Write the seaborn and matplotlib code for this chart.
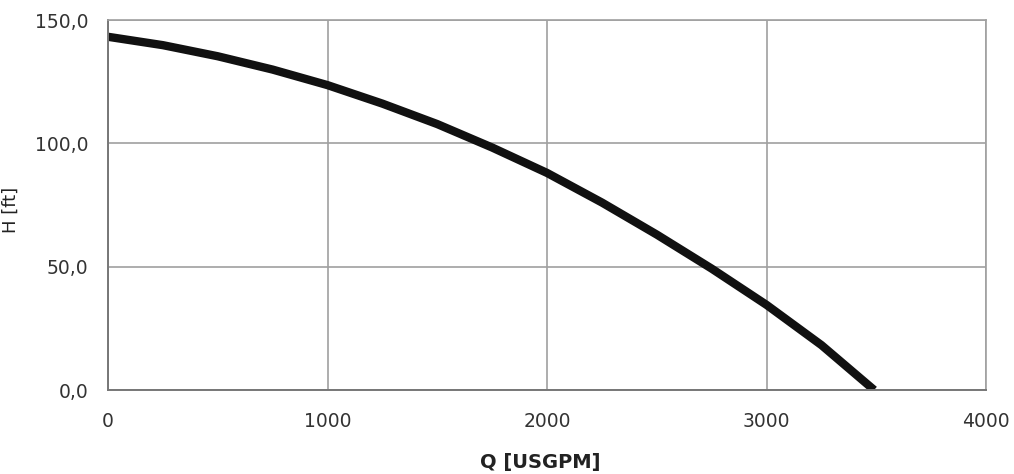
import matplotlib

matplotlib.use("Agg")
import matplotlib.pyplot as plt
import matplotlib.ticker as mticker
import pandas as pd
import seaborn as sns

# pump curve
flow_usgpm = [0, 250, 500, 750, 1000, 1250, 1500, 1750, 2000, 2250, 2500, 2750, 3000, 3250, 3490]
head_ft = [143.2, 139.8, 135.3, 129.9, 123.6, 116.1, 107.8, 98.3, 88.0, 76.0, 63.0, 49.2, 34.5, 18.2, 0.0]

x_ticks = [0, 1000, 2000, 3000, 4000]
y_ticks = [0, 50, 100, 150]

df = pd.DataFrame({"Q": flow_usgpm, "H": head_ft})

sns.set_style("white")
plt.rcParams["font.family"] = ["DejaVu Sans"]

fig = plt.figure(figsize=(10.14, 4.74), dpi=100)
ax = fig.add_axes([0.1065, 0.1772, 0.866, 0.7806])

sns.lineplot(data=df, x="Q", y="H", ax=ax, color="#111111", linewidth=6,
             solid_capstyle="butt", solid_joinstyle="round")

ax.set_xlim(0, 4000)
ax.set_ylim(0, 150)
ax.set_xticks(x_ticks)
ax.set_yticks(y_ticks)
ax.yaxis.set_major_formatter(
    mticker.FuncFormatter(lambda v, _: f"{v:.1f}".replace(".", ","))
)
ax.grid(True, color="#a0a0a0", linewidth=1.2)
ax.set_axisbelow(True)

for side in ["top", "right"]:
    ax.spines[side].set_color("#a0a0a0")
    ax.spines[side].set_linewidth(1.2)
for side in ["left", "bottom"]:
    ax.spines[side].set_color("#777777")
    ax.spines[side].set_linewidth(1.4)

ax.tick_params(axis="both", length=0, labelsize=13.5, labelcolor="#333333")
ax.tick_params(axis="x", pad=16)
ax.tick_params(axis="y", pad=14)

ax.set_xlabel("Q [USGPM]", fontsize=14, fontweight="bold", color="#222222")
ax.set_ylabel("H [ft]", fontsize=13, color="#222222")
ax.xaxis.set_label_coords(0.492, -0.17)
ax.yaxis.set_label_coords(-0.101, 0.486)

fig.savefig("out.png", dpi=100)
plt.close(fig)
